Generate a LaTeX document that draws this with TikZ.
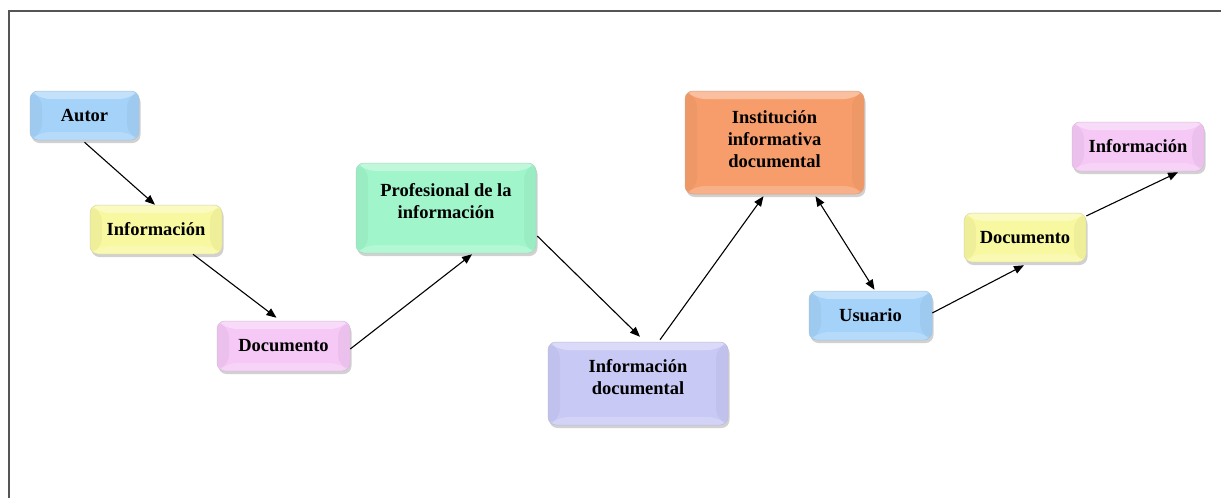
\documentclass[tikz,border=0pt]{standalone}
\usepackage{fontspec}
\setmainfont{Liberation Serif}
\usetikzlibrary{arrows.meta,shadows}
\definecolor{bluec}{HTML}{A4D2F9}
\definecolor{yellowc}{HTML}{F8F8A0}
\definecolor{pinkc}{HTML}{F5C8F5}
\definecolor{greenc}{HTML}{A0F5CA}
\definecolor{purplec}{HTML}{C9C9F6}
\definecolor{orangec}{HTML}{F79D6B}
\definecolor{framec}{HTML}{555555}
\tikzset{
  box/.style={rounded corners=8pt, draw=#1!80!black!70, line width=0.5pt,
    fill=#1,
    align=center, font=\fontsize{18.5}{22}\selectfont\bfseries, text=black,
    drop shadow={shadow xshift=1.5pt, shadow yshift=-3pt, fill=black!40, opacity=0.45},
    path picture={
      \fill[white,opacity=0.35] (path picture bounding box.north west) -- (path picture bounding box.north east)
        -- ([shift={(-12pt,-8pt)}]path picture bounding box.north east) -- ([shift={(12pt,-8pt)}]path picture bounding box.north west) -- cycle;
      \fill[white,opacity=0.2] (path picture bounding box.south west) -- (path picture bounding box.south east)
        -- ([shift={(-12pt,8pt)}]path picture bounding box.south east) -- ([shift={(12pt,8pt)}]path picture bounding box.south west) -- cycle;
      \fill[black,opacity=0.035] (path picture bounding box.north west) -- ([shift={(12pt,-8pt)}]path picture bounding box.north west)
        -- ([shift={(12pt,8pt)}]path picture bounding box.south west) -- (path picture bounding box.south west) -- cycle;
      \fill[black,opacity=0.035] (path picture bounding box.north east) -- ([shift={(-12pt,-8pt)}]path picture bounding box.north east)
        -- ([shift={(-12pt,8pt)}]path picture bounding box.south east) -- (path picture bounding box.south east) -- cycle;
    }},
  conn/.style={line width=1.1pt, black, -{Triangle[length=10pt,width=8pt]}},
  biconn/.style={line width=1.1pt, black, {Triangle[length=10pt,width=8pt]}-{Triangle[length=10pt,width=8pt]}}
}
\begin{document}
\begin{tikzpicture}[x=1pt,y=-1pt]
\useasboundingbox (0,0) rectangle (1221,498);
\fill[white] (0,0) rectangle (1221,498);
\draw[framec, line width=2pt] (9,520) -- (9,11) -- (1240,11);
\node[box=bluec, minimum width=109pt, minimum height=49pt] (autor) at (84.5,115.5) {Autor};
\node[box=yellowc, minimum width=132pt, minimum height=49pt] (info1) at (156,229.5) {Información};
\node[box=pinkc, minimum width=133pt, minimum height=50pt] (doc1) at (283.5,346) {Documento};
\node[box=greenc, minimum width=180pt, minimum height=90pt] (prof) at (446,208) {Profesional de la\\información\\[-8pt]};
\node[box=purplec, minimum width=180pt, minimum height=83pt] (infodoc) at (638,383.5) {Información\\documental\\[-9pt]};
\node[box=orangec, minimum width=179pt, minimum height=103pt] (inst) at (774.5,142.5) {Institución\\informativa\\documental\\[-15pt]};
\node[box=bluec, minimum width=123pt, minimum height=49pt] (usu) at (870.5,315.5) {Usuario};
\node[box=yellowc, minimum width=122pt, minimum height=49pt] (doc2) at (1025,237.5) {Documento};
\node[box=pinkc, minimum width=132pt, minimum height=49pt] (info2) at (1138,146.5) {Información};
\draw[conn] ([yshift=-2pt]autor.south) -- ([xshift=-1pt]info1.north);
\draw[conn] ([xshift=37pt]info1.south) -- ([xshift=-7pt,yshift=3pt]doc1.north);
\draw[conn] ([yshift=-3pt]doc1.east) -- ([xshift=26pt,yshift=-1pt]prof.south);
\draw[conn] ([xshift=1pt,yshift=-28pt]prof.east) -- ([xshift=2pt,yshift=5pt]infodoc.north);
\draw[conn] ([xshift=22pt,yshift=2pt]infodoc.north) -- ([xshift=-11pt,yshift=-2pt]inst.south);
\draw[biconn] ([xshift=41pt,yshift=-2pt]inst.south) -- ([xshift=4pt,yshift=1pt]usu.north);
\draw[conn] ([yshift=2.5pt]usu.east) -- ([xshift=-1pt,yshift=-3pt]doc2.south);
\draw[conn] ([yshift=21.5pt]doc2.east) -- ([xshift=40pt,yshift=-1pt]info2.south);
\end{tikzpicture}
\end{document}
